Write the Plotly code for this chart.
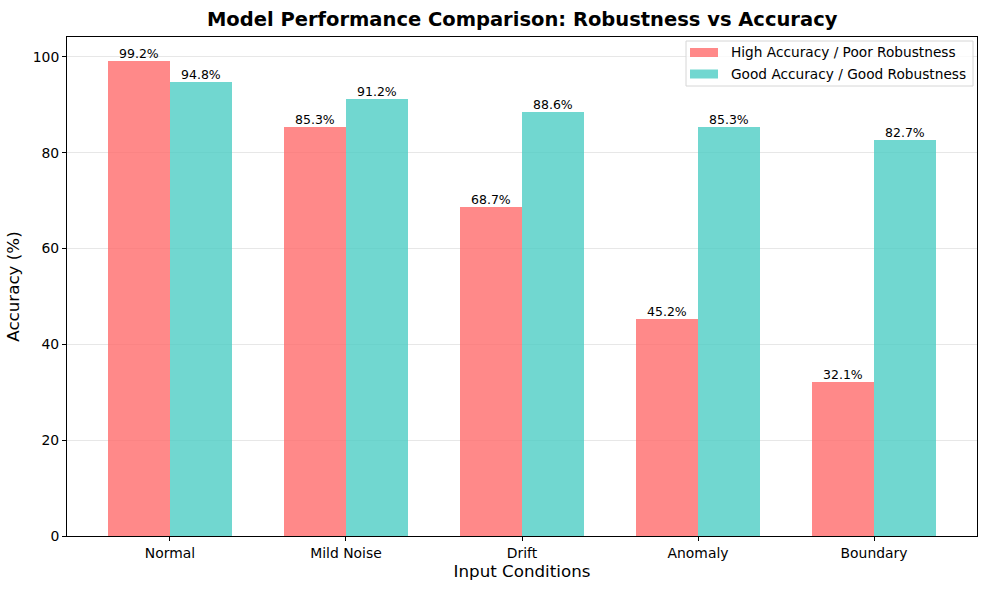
import plotly.graph_objects as go

categories = ["Normal", "Mild Noise", "Drift", "Anomaly", "Boundary"]
high_acc_poor_rob = [99.2, 85.3, 68.7, 45.2, 32.1]
good_acc_good_rob = [94.8, 91.2, 88.6, 85.3, 82.7]
series_names = ["High Accuracy / Poor Robustness", "Good Accuracy / Good Robustness"]
y_ticks = [0, 20, 40, 60, 80, 100]

FONT = "DejaVu Sans"
RED = "rgba(255,107,107,0.8)"
TEAL = "rgba(78,205,196,0.8)"
x_idx = list(range(len(categories)))
w = 0.35

fig = go.Figure()
fig.add_trace(go.Bar(
    x=[i - w / 2 for i in x_idx], y=high_acc_poor_rob, width=w,
    name=series_names[0], marker=dict(color=RED, line=dict(width=0)),
))
fig.add_trace(go.Bar(
    x=[i + w / 2 for i in x_idx], y=good_acc_good_rob, width=w,
    name=series_names[1], marker=dict(color=TEAL, line=dict(width=0)),
))

for i in x_idx:
    for off, vals in ((-w / 2, high_acc_poor_rob), (w / 2, good_acc_good_rob)):
        fig.add_annotation(
            x=i + off, y=vals[i], text=f"{vals[i]:.1f}%", showarrow=False,
            yanchor="bottom", xanchor="center", yshift=-2,
            font=dict(family=FONT, size=12.5, color="black"),
        )

# Manual legend (matplotlib-style wide swatches)
L, R, T, B = 67, 977, 37, 536
px = lambda v: (v - L) / (R - L)
py = lambda v: (B - v) / (B - T)
fig.add_shape(type="rect", xref="paper", yref="paper",
              x0=px(686), x1=px(973), y0=py(86), y1=py(41),
              line=dict(color="#d6d6d6", width=1), fillcolor="rgba(255,255,255,0.8)")
for k, (name, col) in enumerate(zip(series_names, [RED, TEAL])):
    cy = 52.5 + k * 21.5
    fig.add_shape(type="rect", xref="paper", yref="paper",
                  x0=px(690), x1=px(718), y0=py(cy + 4.5), y1=py(cy - 4.5),
                  line=dict(width=0), fillcolor=col)
    fig.add_annotation(xref="paper", yref="paper", x=px(729), y=py(cy),
                       text=name, showarrow=False, xanchor="left", yanchor="middle",
                       font=dict(family=FONT, size=13.7, color="black"))

fig.update_layout(
    width=989, height=590,
    margin=dict(l=67, r=12, t=37, b=54),
    paper_bgcolor="white", plot_bgcolor="white",
    font=dict(family=FONT, color="black"),
    title=dict(
        text="<b>Model Performance Comparison: Robustness vs Accuracy</b>",
        x=0.528, xanchor="center", y=0.968, yanchor="middle",
        font=dict(family=FONT, size=19.5, color="black"),
    ),
    barmode="overlay",
    bargap=0,
    showlegend=False,
    xaxis=dict(
        range=[-0.585, 4.585],
        tickmode="array", tickvals=x_idx, ticktext=categories,
        ticks="outside", ticklen=4, tickcolor="black",
        showline=True, linecolor="black", linewidth=1, mirror=True,
        showgrid=False, zeroline=False,
        tickfont=dict(family=FONT, size=13.9, color="black"),
        title=dict(text="Input Conditions", font=dict(family=FONT, size=16.7, color="black"), standoff=5),
    ),
    yaxis=dict(
        range=[0, 104.16],
        tickmode="array", tickvals=y_ticks,
        ticks="outside", ticklen=4, tickcolor="black",
        showline=True, linecolor="black", linewidth=1, mirror=True,
        showgrid=True, gridcolor="rgba(176,176,176,0.3)", gridwidth=1, zeroline=False,
        tickfont=dict(family=FONT, size=13.9, color="black"),
        title=dict(text="Accuracy (%)", font=dict(family=FONT, size=16.7, color="black"), standoff=8),
    ),
)

fig.write_html("out.html")
